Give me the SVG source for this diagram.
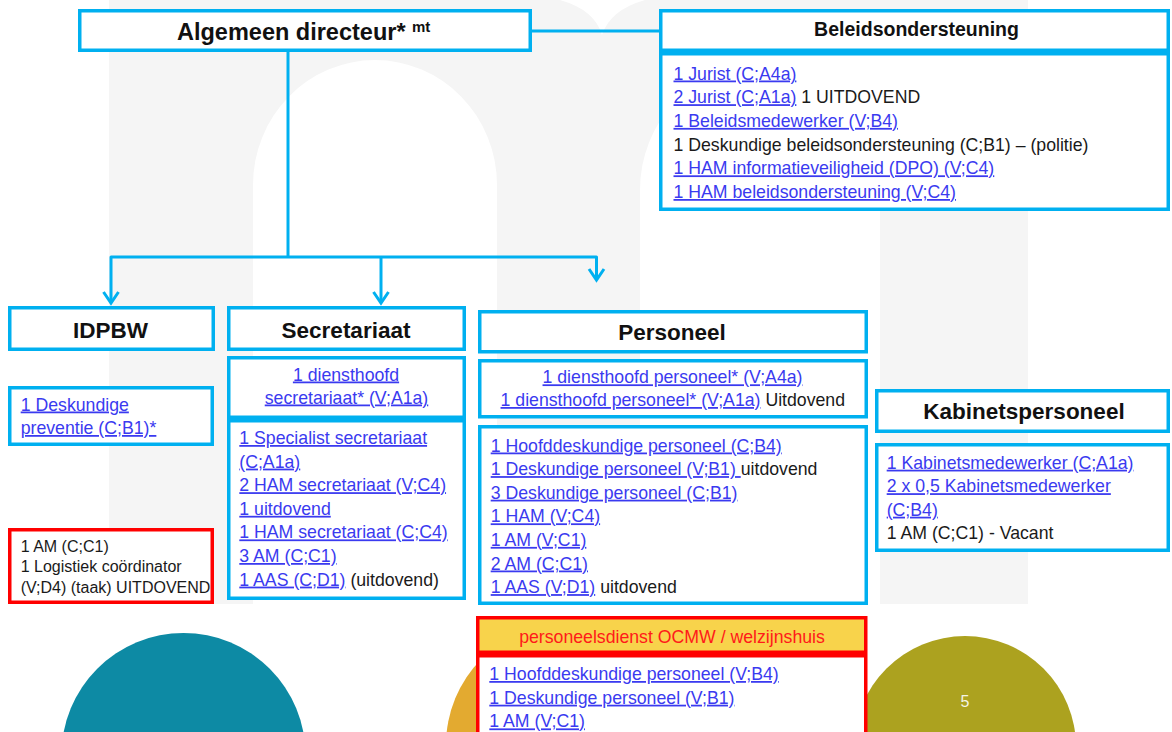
<svg xmlns="http://www.w3.org/2000/svg" width="1172" height="732" viewBox="0 0 1172 732">
<defs>
<style>
.bx{fill:#fff;stroke:#00b0f0;stroke-width:3.5}
.rb{fill:#fff;stroke:#ff0000;stroke-width:3.5}
.t{font-family:"Liberation Sans",Arial,sans-serif;font-size:17.7px;fill:#1a1a1a}
.sm{font-size:16px}
.lk{fill:#3a3af0;text-decoration:underline}
.h{font-family:"Liberation Sans",Arial,sans-serif;font-weight:bold;font-size:22.5px;fill:#111}
.c{text-anchor:middle}
.conn{fill:none;stroke:#00b0f0;stroke-width:3;stroke-linejoin:round}
</style>
<marker id="arr" markerUnits="userSpaceOnUse" viewBox="-14 -10 18 20" refX="0" refY="0" markerWidth="18" markerHeight="20" orient="auto">
<path d="M-11,-7.5 L0,0 L-11,7.5" fill="none" stroke="#00b0f0" stroke-width="3" stroke-linejoin="miter"/>
</marker>
</defs>
<rect width="1172" height="732" fill="#fff"/>
<g id="background">
<path d="M109,604 V0 H560 Q595,10 602,35 Q610,10 645,0 H1028 V604 H880 V190 A120,125 0 0 0 640,190 V604 H497 V185 A122,125 0 0 0 253,185 V604 Z" fill="#f5f5f5"/>
<circle cx="183.5" cy="755" r="122" fill="#0d8aa4"/>
<circle cx="568" cy="745" r="122" fill="#e3aa30"/>
<circle cx="965" cy="747" r="111" fill="#aca21f"/>
<text x="965" y="707" class="c" font-family="Liberation Sans, Arial, sans-serif" font-size="16" fill="#f4f4e6">5</text>
</g>
<g id="connectors">
<path class="conn" d="M288,52 V257"/>
<path class="conn" d="M532,31 H660"/>
<path class="conn" d="M288,257 H111 V303" marker-end="url(#arr)"/>
<path class="conn" d="M381,257 V303" marker-end="url(#arr)"/>
<path class="conn" d="M288,257 H596.5 V280" marker-end="url(#arr)"/>
</g>
<g id="algemeen-directeur">
<rect class="bx" x="79.75" y="10.75" width="450.5" height="39.5"/>
<text class="h" x="177" y="39.5" style="font-size:23.5px">Algemeen directeur*</text>
<text class="h" x="412" y="31.5" style="font-size:15px">mt</text>
</g>
<g id="beleidsondersteuning">
<rect class="bx" x="660.75" y="10.75" width="507.5" height="39.5"/>
<rect class="bx" x="660.75" y="53.75" width="507.5" height="155.5"/>
<text class="h c" x="916.5" y="36" style="font-size:19.5px">Beleidsondersteuning</text>
<text class="t" x="673.5" y="79.5"><tspan class="lk">1 Jurist (C;A4a)</tspan></text>
<text class="t" x="673.5" y="103.2"><tspan class="lk">2 Jurist (C;A1a)</tspan><tspan> 1 UITDOVEND</tspan></text>
<text class="t" x="673.5" y="126.9"><tspan class="lk">1 Beleidsmedewerker (V;B4)</tspan></text>
<text class="t" x="673.5" y="150.6">1 Deskundige beleidsondersteuning (C;B1) – (politie)</text>
<text class="t" x="673.5" y="174.3"><tspan class="lk">1 HAM informatieveiligheid (DPO) (V;C4)</tspan></text>
<text class="t" x="673.5" y="198"><tspan class="lk">1 HAM beleidsondersteuning (V;C4)</tspan></text>
</g>
<g id="idpbw">
<rect class="bx" x="9.75" y="307.75" width="203.5" height="41.5"/>
<text class="h c" x="110.5" y="338">IDPBW</text>
<rect class="bx" x="9.75" y="387.75" width="202.5" height="56.5"/>
<text class="t" x="20.7" y="410.5"><tspan class="lk">1 Deskundige</tspan></text>
<text class="t" x="20.7" y="434"><tspan class="lk">preventie (C;B1)*</tspan></text>
<rect class="rb" x="9.75" y="529.75" width="202.5" height="72.5"/>
<text class="t sm" x="20.7" y="551.5">1 AM (C;C1)</text>
<text class="t sm" x="20.7" y="572">1 Logistiek coördinator</text>
<text class="t sm" x="20.7" y="592.5">(V;D4) (taak) UITDOVEND</text>
</g>
<g id="secretariaat">
<rect class="bx" x="228.75" y="307.75" width="235.5" height="41.5"/>
<text class="h c" x="346" y="338">Secretariaat</text>
<rect class="bx" x="228.75" y="357.75" width="235.5" height="59.5"/>
<text class="t c" x="346" y="380.5"><tspan class="lk">1 diensthoofd</tspan></text>
<text class="t c" x="346.5" y="403.5"><tspan class="lk">secretariaat* (V;A1a)</tspan></text>
<rect class="bx" x="228.75" y="420.75" width="235.5" height="177.5"/>
<text class="t" x="239.3" y="444"><tspan class="lk">1 Specialist secretariaat</tspan></text>
<text class="t" x="239.3" y="467.6"><tspan class="lk">(C;A1a)</tspan></text>
<text class="t" x="239.3" y="491.2"><tspan class="lk">2 HAM secretariaat (V;C4)</tspan></text>
<text class="t" x="239.3" y="514.8"><tspan class="lk">1 uitdovend</tspan></text>
<text class="t" x="239.3" y="538.4"><tspan class="lk">1 HAM secretariaat (C;C4)</tspan></text>
<text class="t" x="239.3" y="562"><tspan class="lk">3 AM (C;C1)</tspan></text>
<text class="t" x="239.3" y="585.6"><tspan class="lk">1 AAS (C;D1)</tspan><tspan> (uitdovend)</tspan></text>
</g>
<g id="personeel">
<rect class="bx" x="479.75" y="311.75" width="386.5" height="40"/>
<text class="h c" x="672" y="339.5">Personeel</text>
<rect class="bx" x="479.75" y="360.75" width="386.5" height="56"/>
<text class="t c" x="672.5" y="383.3"><tspan class="lk">1 diensthoofd personeel* (V;A4a)</tspan></text>
<text class="t c" x="672.8" y="406"><tspan class="lk">1 diensthoofd personeel* (V;A1a)</tspan><tspan> Uitdovend</tspan></text>
<rect class="bx" x="479.75" y="426.75" width="386.5" height="176.5"/>
<text class="t" x="490.7" y="451.5"><tspan class="lk">1 Hoofddeskundige personeel (C;B4)</tspan></text>
<text class="t" x="490.7" y="475.1"><tspan class="lk">1 Deskundige personeel (V;B1) </tspan><tspan>uitdovend</tspan></text>
<text class="t" x="490.7" y="498.7"><tspan class="lk">3 Deskundige personeel (C;B1)</tspan></text>
<text class="t" x="490.7" y="522.3"><tspan class="lk">1 HAM (V;C4)</tspan></text>
<text class="t" x="490.7" y="545.9"><tspan class="lk">1 AM (V;C1)</tspan></text>
<text class="t" x="490.7" y="569.5"><tspan class="lk">2 AM (C;C1)</tspan></text>
<text class="t" x="490.7" y="593.1"><tspan class="lk">1 AAS (V;D1)</tspan><tspan> uitdovend</tspan></text>
</g>
<g id="personeelsdienst-ocmw">
<rect x="477.75" y="617.75" width="388" height="34.5" fill="#f8d34b" stroke="#ff0000" stroke-width="3.5"/>
<text class="t c" x="672" y="643" style="fill:#ff1a1a">personeelsdienst OCMW / welzijnshuis</text>
<rect class="rb" x="477.75" y="655.75" width="388" height="100"/>
<text class="t" x="489.3" y="680"><tspan class="lk">1 Hoofddeskundige personeel (V;B4)</tspan></text>
<text class="t" x="489.3" y="703.7"><tspan class="lk">1 Deskundige personeel (V;B1)</tspan></text>
<text class="t" x="489.3" y="727.4"><tspan class="lk">1 AM (V;C1)</tspan></text>
</g>
<g id="kabinetspersoneel">
<rect class="bx" x="876.75" y="390.75" width="291.5" height="40.5"/>
<text class="h c" x="1024" y="418.5">Kabinetspersoneel</text>
<rect class="bx" x="876.75" y="444.75" width="291.5" height="105.5"/>
<text class="t" x="886.7" y="468.7"><tspan class="lk">1 Kabinetsmedewerker (C;A1a)</tspan></text>
<text class="t" x="886.7" y="492.2"><tspan class="lk">2 x 0,5 Kabinetsmedewerker</tspan></text>
<text class="t" x="886.7" y="515.7"><tspan class="lk">(C;B4)</tspan></text>
<text class="t" x="886.7" y="539.2">1 AM (C;C1) - Vacant</text>
</g>
</svg>
